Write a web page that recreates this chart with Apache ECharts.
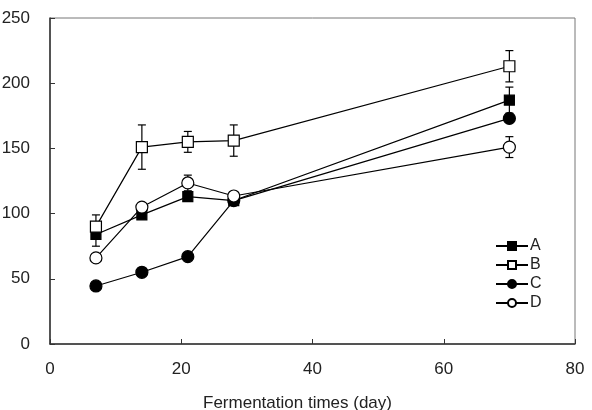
<!DOCTYPE html>
<html>
<head>
<meta charset="utf-8">
<script src="https://cdn.jsdelivr.net/npm/echarts@6/dist/echarts.min.js"></script>
<style>
  * { margin: 0; padding: 0; }
  body { background: #fff; }
</style>
</head>
<body>
<div id="chart" style="width: 592px; height: 410px"></div>
<script>
// fermentation days
var days = [7, 14, 21, 28, 70];
// series values
var valuesA = [84, 99, 113, 110, 187];
var valuesB = [90, 151, 155, 156, 213];
var valuesC = [44.5, 55, 67, 110, 173];
var valuesD = [66, 105, 123.5, 113.5, 151];
// error (± half-range), 0 = no bar
var errA = [9, 0, 0, 0, 10];
var errB = [9, 17, 8, 12, 12];
var errC = [0, 0, 0, 0, 0];
var errD = [0, 0, 6, 0, 8];
var xTicks = [0, 20, 40, 60, 80];
var yTicks = [0, 50, 100, 150, 200, 250];

var chart = echarts.init(document.getElementById("chart"));

function errData(vals, errs) {
  var out = [];
  for (var i = 0; i < days.length; i++) {
    if (errs[i] > 0) out.push([days[i], vals[i] - errs[i], vals[i] + errs[i]]);
  }
  return out;
}

function errSeries(vals, errs) {
  return {
    type: "custom",
    z: 1,
    silent: true,
    data: errData(vals, errs),
    renderItem: function (params, api) {
      var lo = api.coord([api.value(0), api.value(1)]);
      var hi = api.coord([api.value(0), api.value(2)]);
      var w = 4;
      var st = { stroke: "#000", lineWidth: 1.2 };
      return {
        type: "group",
        children: [
          { type: "line", shape: { x1: lo[0], y1: lo[1], x2: hi[0], y2: hi[1] }, style: st },
          { type: "line", shape: { x1: lo[0] - w, y1: lo[1], x2: lo[0] + w, y2: lo[1] }, style: st },
          { type: "line", shape: { x1: hi[0] - w, y1: hi[1], x2: hi[0] + w, y2: hi[1] }, style: st }
        ]
      };
    }
  };
}

function pairs(vals) {
  return days.map(function (d, i) { return [d, vals[i]]; });
}

function lineSeries(name, vals, symbol, size, fill) {
  return {
    name: name,
    type: "line",
    z: 3,
    data: pairs(vals),
    symbol: symbol,
    symbolSize: size,
    showAllSymbol: true,
    lineStyle: { color: "#000", width: 1.2 },
    itemStyle: { color: fill, borderColor: "#000", borderWidth: 1.2 }
  };
}

var fontFam = "Liberation Sans, Arial, sans-serif";
var axisFont = { color: "#222", fontSize: 17, fontFamily: fontFam };

var option = {
  animation: false,
  grid: {
    left: 50, right: 17, top: 18, bottom: 66,
    outerBoundsMode: "none",
    containLabel: false,
    show: true, borderColor: "#777", borderWidth: 1
  },
  legend: {
    orient: "vertical",
    left: 490,
    top: 233,
    itemWidth: 32,
    itemHeight: 10,
    itemGap: 3,
    textStyle: { color: "#222", fontSize: 16, lineHeight: 15, fontFamily: fontFam, padding: [0, 0, 0, -3] },
    data: ["A", "B", "C", "D"]
  },
  xAxis: {
    type: "value",
    min: 0,
    max: 80,
    interval: 20,
    name: "Fermentation times (day)",
    nameLocation: "middle",
    nameGap: 51,
    nameTextStyle: Object.assign({ padding: [0, 30, 0, 0] }, axisFont),
    axisLine: { lineStyle: { color: "#333", width: 1.5 } },
    axisTick: { inside: true, length: 5, lineStyle: { color: "#333" } },
    axisLabel: Object.assign({ margin: 17 }, axisFont),
    splitLine: { show: false }
  },
  yAxis: {
    type: "value",
    min: 0,
    max: 250,
    interval: 50,
    axisLine: { show: true, lineStyle: { color: "#333", width: 1.5 } },
    axisTick: { show: true, inside: true, length: 5, lineStyle: { color: "#333" } },
    axisLabel: Object.assign({ margin: 20 }, axisFont),
    splitLine: { show: false }
  },
  series: [
    errSeries(valuesA, errA),
    errSeries(valuesB, errB),
    errSeries(valuesC, errC),
    errSeries(valuesD, errD),
    lineSeries("A", valuesA, "rect", 10, "#000"),
    lineSeries("B", valuesB, "rect", 11, "#fff"),
    lineSeries("C", valuesC, "circle", 12, "#000"),
    lineSeries("D", valuesD, "circle", 12, "#fff")
  ]
};

chart.setOption(option);
</script>
</body>
</html>
